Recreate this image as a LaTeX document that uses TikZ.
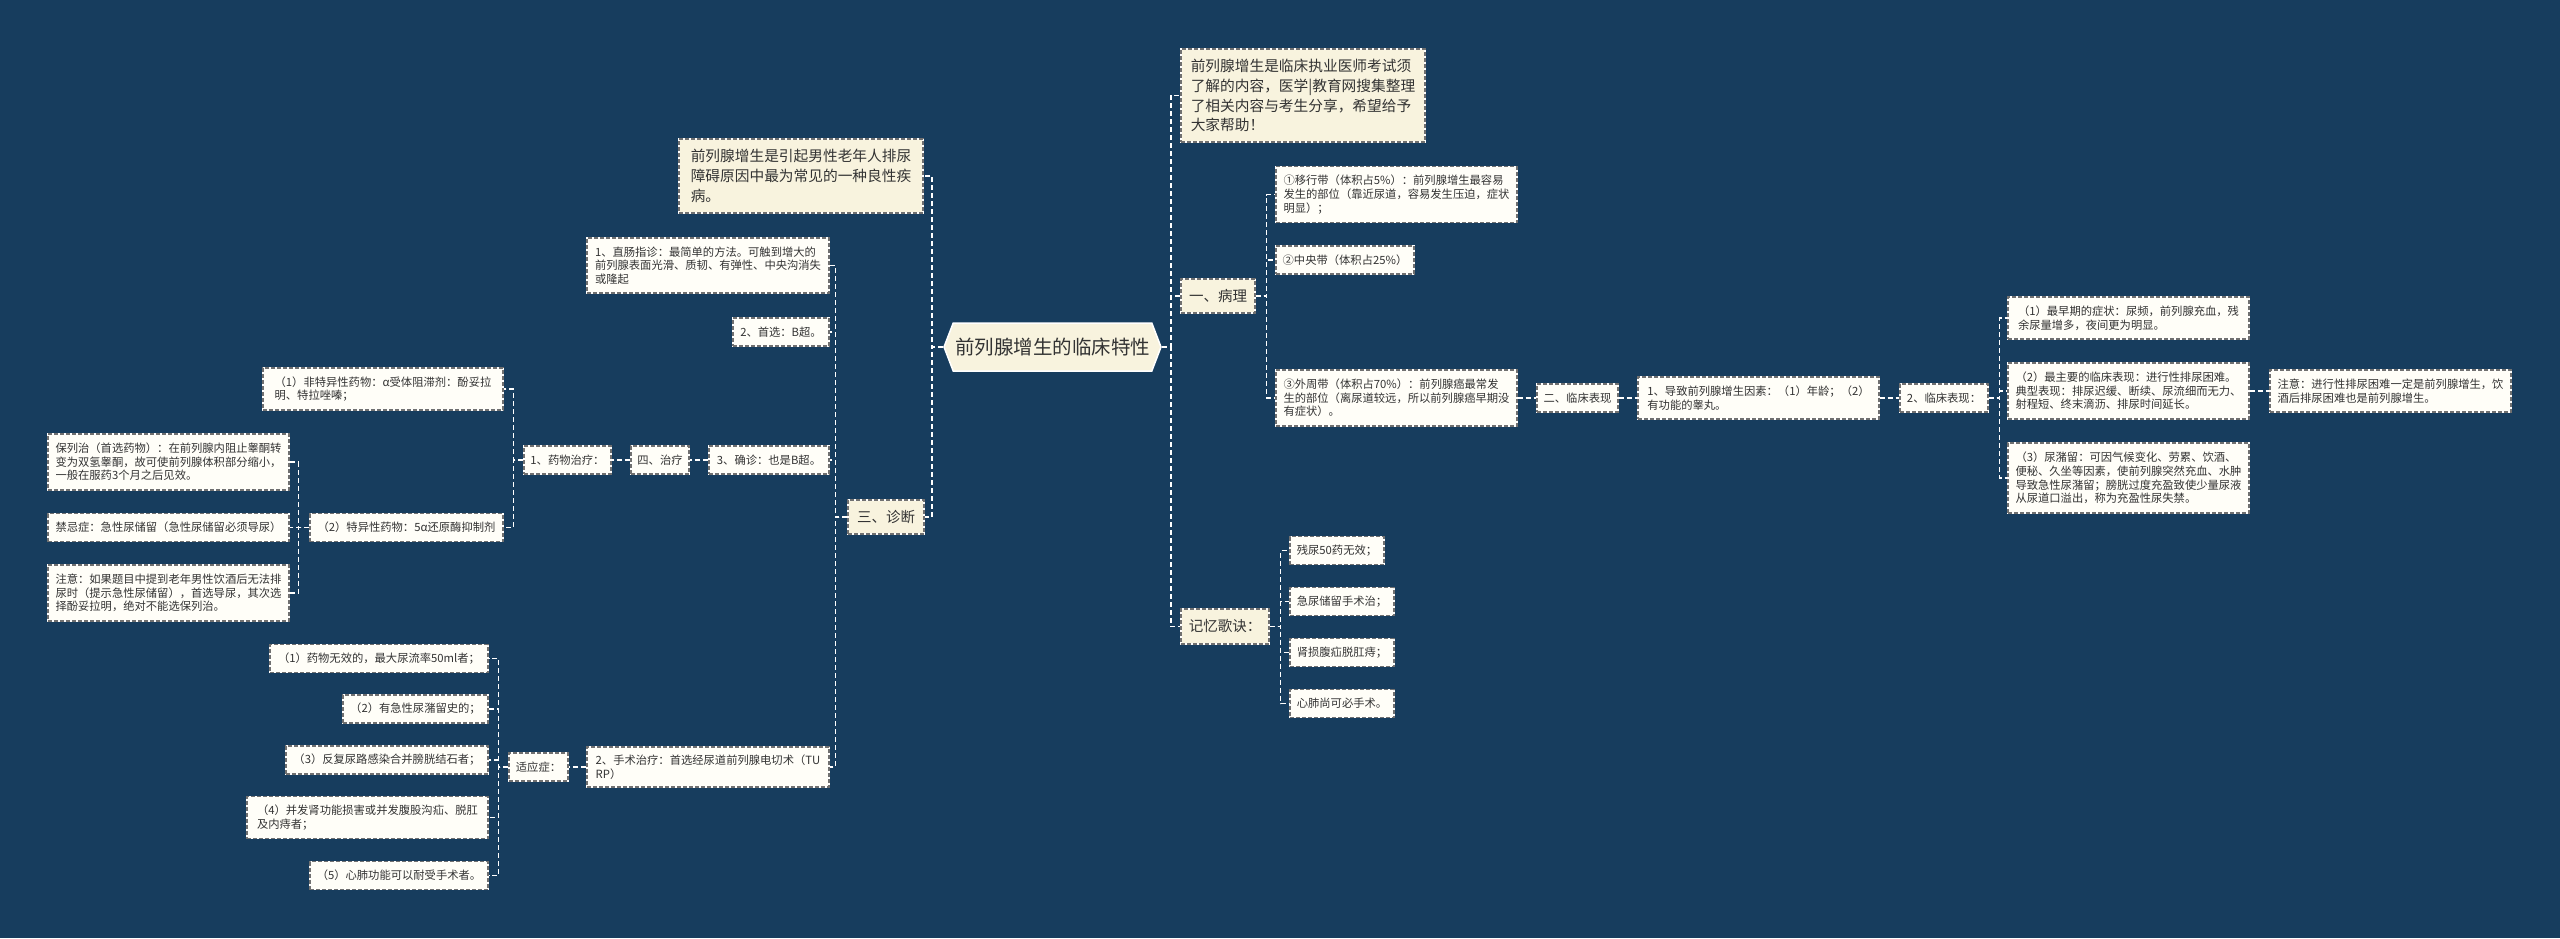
\documentclass[tikz,border=0pt]{standalone}
\usepackage{fontspec}
\setmainfont{Noto Sans CJK SC}
\usetikzlibrary{shapes.symbols}
\definecolor{bg}{HTML}{173D5E}
\definecolor{cream}{HTML}{F8F3DE}
\definecolor{paper}{HTML}{FFFEF8}
\definecolor{txt}{HTML}{333333}
\definecolor{bord}{HTML}{707070}
\begin{document}
\begin{tikzpicture}[x=1pt,y=-1pt,
 box/.style={draw=white, line width=1.1pt, fill=paper, text=txt, align=left, inner sep=1pt,
   font=\fontsize{11.3}{13.6}\selectfont,
   postaction={draw=bord, line width=1.1pt, dash pattern=on 4pt off 2pt}},
 note/.style={box, fill=cream, font=\fontsize{14.7}{19.8}\selectfont},
 lvl/.style={box, fill=cream, font=\fontsize{14.5}{17}\selectfont},
 rootbox/.style={shape=signal, signal to=east and west, signal pointer angle=138, draw=white, line width=1.5pt,
   fill=cream, text=txt, inner sep=1pt, font=\fontsize{19.5}{22}\selectfont},
 conn/.style={draw=white, line width=1.8pt, dash pattern=on 5pt off 3pt},
 ]
\fill[bg] (0,0) rectangle (2560,938);
\useasboundingbox (0,0) rectangle (2560,938);

% root
\node[rootbox, minimum width=217pt, minimum height=48pt] (root) at (1052.5,347) {前列腺增生的临床特性};

% left side
\node[note, minimum width=244pt, minimum height=74pt] (topL) at (801,176) {前列腺增生是引起男性老年人排尿\\障碍原因中最为常见的一种良性疾\\病。};
\node[lvl, minimum width=76pt, minimum height=34pt] (zd) at (886,517) {三、诊断};
\node[box, minimum width=242pt, minimum height=55pt] (zc) at (708,265.5) {1、直肠指诊：最简单的方法。可触到增大的\\前列腺表面光滑、质韧、有弹性、中央沟消失\\或隆起};
\node[box, minimum width=96pt, minimum height=28pt] (sx) at (781,332) {2、首选：B超。};
\node[box, minimum width=120pt, minimum height=28pt] (qz) at (769,460) {3、确诊：也是B超。};
\node[box, minimum width=58pt, minimum height=28pt] (zl) at (660,460) {四、治疗};
\node[box, minimum width=87pt, minimum height=28pt] (yw) at (567.5,460) {1、药物治疗：};
\node[box, minimum width=240pt, minimum height=42pt] (f1) at (383,389) {（1）非特异性药物：α受体阻滞剂：酚妥拉\\明、特拉唑嗪；};
\node[box, minimum width=193pt, minimum height=28pt] (f2) at (406.5,527.5) {（2）特异性药物：5α还原酶抑制剂};
\node[box, minimum width=241pt, minimum height=56pt] (blz) at (168.5,462) {保列治（首选药物）：在前列腺内阻止睾酮转\\变为双氢睾酮，故可使前列腺体积部分缩小，\\一般在服药3个月之后见效。};
\node[box, minimum width=241pt, minimum height=28pt] (jjz) at (168.5,527.5) {禁忌症：急性尿储留（急性尿储留必须导尿）};
\node[box, minimum width=241pt, minimum height=56pt] (zy) at (168.5,593) {注意：如果题目中提到老年男性饮酒后无法排\\尿时（提示急性尿储留），首选导尿，其次选\\择酚妥拉明，绝对不能选保列治。};
\node[box, minimum width=242pt, minimum height=40pt] (ss) at (708,767) {2、手术治疗：首选经尿道前列腺电切术（TU\\RP）};
\node[box, minimum width=59pt, minimum height=28pt] (syz) at (538.5,767) {适应症：};
\node[box, minimum width=218pt, minimum height=28pt] (s1) at (379,658.5) {（1）药物无效的，最大尿流率50ml者；};
\node[box, minimum width=145pt, minimum height=28pt] (s2) at (415.5,709) {（2）有急性尿潴留史的；};
\node[box, minimum width=202pt, minimum height=28pt] (s3) at (387,760) {（3）反复尿路感染合并膀胱结石者；};
\node[box, minimum width=241pt, minimum height=42pt] (s4) at (367.5,817.5) {（4）并发肾功能损害或并发腹股沟疝、脱肛\\及内痔者；};
\node[box, minimum width=178pt, minimum height=28pt] (s5) at (399,875.5) {（5）心肺功能可以耐受手术者。};

% right side
\node[note, minimum width=244pt, minimum height=93pt] (topR) at (1303,95.5) {前列腺增生是临床执业医师考试须\\了解的内容，医学|教育网搜集整理\\了相关内容与考生分享，希望给予\\大家帮助！};
\node[lvl, minimum width=74pt, minimum height=34pt] (bl) at (1218,296) {一、病理};
\node[box, minimum width=241pt, minimum height=56pt] (p1) at (1396.5,194.5) {①移行带（体积占5\%）：前列腺增生最容易\\发生的部位（靠近尿道，容易发生压迫，症状\\明显）；};
\node[box, minimum width=138pt, minimum height=28pt] (p2) at (1345,260) {②中央带（体积占25\%）};
\node[box, minimum width=241pt, minimum height=56pt] (p3) at (1396.5,398) {③外周带（体积占70\%）：前列腺癌最常发\\生的部位（离尿道较远，所以前列腺癌早期没\\有症状）。};
\node[box, minimum width=81pt, minimum height=28pt] (lc) at (1577.5,398) {二、临床表现};
\node[box, minimum width=241pt, minimum height=42pt] (dz) at (1758.5,398) {1、导致前列腺增生因素：（1）年龄；（2）\\有功能的睾丸。};
\node[box, minimum width=88pt, minimum height=28pt] (lcbx) at (1944,398) {2、临床表现：};
\node[box, minimum width=241pt, minimum height=42pt] (c1) at (2128.5,318) {（1）最早期的症状：尿频，前列腺充血，残\\余尿量增多，夜间更为明显。};
\node[box, minimum width=241pt, minimum height=56pt] (c2) at (2128.5,391) {（2）最主要的临床表现：进行性排尿困难。\\典型表现：排尿迟缓、断续、尿流细而无力、\\射程短、终末滴沥、排尿时间延长。};
\node[box, minimum width=241pt, minimum height=70pt] (c3) at (2128.5,478) {（3）尿潴留：可因气候变化、劳累、饮酒、\\便秘、久坐等因素，使前列腺突然充血、水肿\\导致急性尿潴留；膀胱过度充盈致使少量尿液\\从尿道口溢出，称为充盈性尿失禁。};
\node[box, minimum width=241pt, minimum height=42pt] (zy2) at (2390.5,391) {注意：进行性排尿困难一定是前列腺增生，饮\\酒后排尿困难也是前列腺增生。};
\node[lvl, minimum width=88pt, minimum height=35pt] (jy) at (1225,626.5) {记忆歌诀：};
\node[box, minimum width=94pt, minimum height=28pt] (j1) at (1337,550.5) {残尿50药无效；};
\node[box, minimum width=104pt, minimum height=28pt] (j2) at (1342,601.5) {急尿储留手术治；};
\node[box, minimum width=104pt, minimum height=28pt] (j3) at (1342,652.5) {肾损腹疝脱肛痔；};
\node[box, minimum width=104pt, minimum height=28pt] (j4) at (1342,703.5) {心肺尚可必手术。};

% connectors left
\foreach \t in {topL,zd} \draw[conn] (root.west) -- ++(-11,0) |- (\t.east);
\foreach \t in {zc,sx,qz,ss} \draw[conn] (zd.west) -- ++(-12,0) |- (\t.east);
\draw[conn] (qz.west) -- (zl.east);
\draw[conn] (zl.west) -- (yw.east);
\foreach \t in {f1,f2} \draw[conn] (yw.west) -- ++(-10,0) |- (\t.east);
\foreach \t in {blz,jjz,zy} \draw[conn] (f2.west) -- ++(-11,0) |- (\t.east);
\draw[conn] (ss.west) -- (syz.east);
\foreach \t in {s1,s2,s3,s4,s5} \draw[conn] (syz.west) -- ++(-10,0) |- (\t.east);
% connectors right
\foreach \t in {topR,bl,jy} \draw[conn] (root.east) -- ++(9,0) |- (\t.west);
\foreach \t in {p1,p2,p3} \draw[conn] (bl.east) -- ++(11,0) |- (\t.west);
\draw[conn] (p3.east) -- (lc.west);
\draw[conn] (lc.east) -- (dz.west);
\draw[conn] (dz.east) -- (lcbx.west);
\foreach \t in {c1,c2,c3} \draw[conn] (lcbx.east) -- ++(11,0) |- (\t.west);
\draw[conn] (c2.east) -- (zy2.west);
\foreach \t in {j1,j2,j3,j4} \draw[conn] (jy.east) -- ++(11,0) |- (\t.west);
\end{tikzpicture}
\end{document}
